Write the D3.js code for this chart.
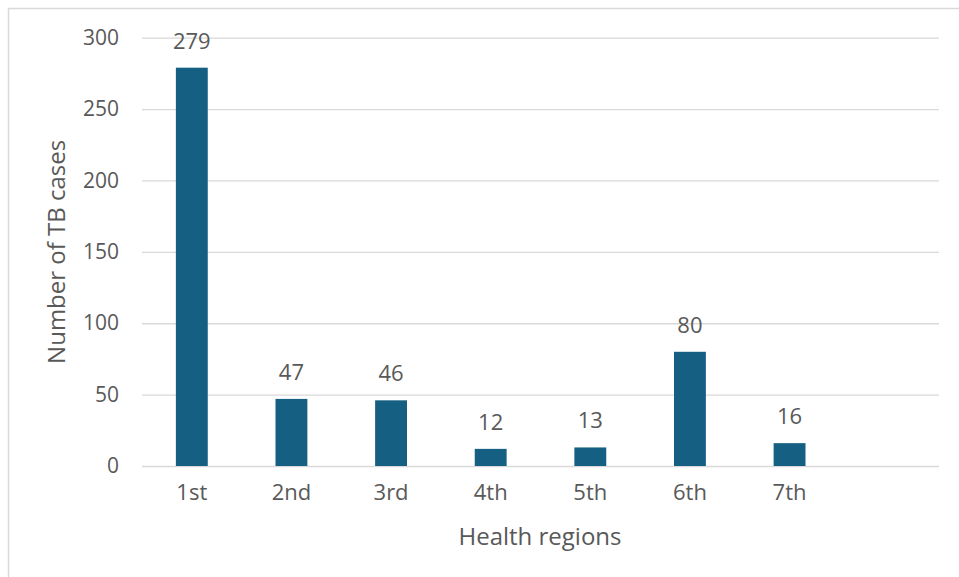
<!DOCTYPE html>
<html>
<head>
<meta charset="utf-8">
<script src="https://cdn.jsdelivr.net/npm/d3@7"></script>
<style>
  body { margin: 0; background: #fff; }
  text { font-family: "Open Sans", "Noto Sans", sans-serif; fill: #595959; }
</style>
</head>
<body>
<div id="chart"></div>
<script>
// Data
var regions = ['1st', '2nd', '3rd', '4th', '5th', '6th', '7th', ''];
var cases = [279, 47, 46, 12, 13, 80, 16];
var yTicks = [0, 50, 100, 150, 200, 250, 300];

var W = 959, H = 577,
    margin = {top: 37.7, right: 20, bottom: 111, left: 142},
    width = 939 - margin.left,
    height = 466 - margin.top,
    barColor = '#156082',
    gridColor = '#d9d9d9';

var svg = d3.select('#chart').append('svg')
    .attr('width', W)
    .attr('height', H);

// outer frame (runs off the right and bottom edges)
svg.append('rect')
    .attr('x', 8.5).attr('y', 8.5)
    .attr('width', W + 10).attr('height', H + 10)
    .attr('fill', 'none')
    .attr('stroke', gridColor)
    .attr('stroke-width', 1.5);

var g = svg.append('g')
    .attr('transform', 'translate(' + margin.left + ',' + margin.top + ')');

var x = d3.scaleBand()
    .domain(regions)
    .range([0, width])
    .paddingInner(0.68)
    .paddingOuter(0.34);

var y = d3.scaleLinear()
    .domain([0, 300])
    .range([height, 0]);

// gridlines + y tick labels
var yAxis = d3.axisLeft(y)
    .tickValues(yTicks)
    .tickSize(-width)
    .tickPadding(23);

g.append('g')
    .attr('class', 'y axis')
    .call(yAxis)
    .call(function (s) {
        s.select('.domain').remove();
        s.selectAll('line').attr('stroke', gridColor).attr('stroke-width', 1.3);
        s.selectAll('text')
            .style('font-size', '21px')
            .attr('fill', '#595959');
    });

// x axis labels
var xAxis = d3.axisBottom(x)
    .tickSize(0)
    .tickPadding(18);

g.append('g')
    .attr('class', 'x axis')
    .attr('transform', 'translate(0,' + height + ')')
    .call(xAxis)
    .call(function (s) {
        s.select('.domain').remove();
        s.selectAll('text')
            .style('font-size', '22px')
            .attr('fill', '#595959');
    });

var data = cases.map(function (v, i) { return {label: regions[i], value: v}; });

// bars
g.selectAll('.bar')
    .data(data)
    .enter()
    .append('rect')
    .attr('class', 'bar')
    .attr('x', function (d) { return x(d.label); })
    .attr('width', x.bandwidth())
    .attr('y', function (d) { return y(d.value); })
    .attr('height', function (d) { return height - y(d.value); })
    .attr('fill', barColor);

// value labels
g.selectAll('.bar-label')
    .data(data)
    .enter()
    .append('text')
    .attr('class', 'bar-label')
    .attr('text-anchor', 'middle')
    .attr('x', function (d) { return x(d.label) + x.bandwidth() / 2; })
    .attr('y', function (d) { return y(d.value) - 19; })
    .style('font-size', '22px')
    .text(function (d) { return d.value; });

// axis titles
svg.append('text')
    .attr('text-anchor', 'middle')
    .attr('x', margin.left + width / 2 - 0.5)
    .attr('y', 545)
    .style('font-size', '24px')
    .text('Health regions');

svg.append('text')
    .attr('text-anchor', 'middle')
    .attr('transform', 'translate(65,' + (margin.top + height / 2) + ') rotate(-90)')
    .style('font-size', '24px')
    .text('Number of TB cases');
</script>
</body>
</html>
